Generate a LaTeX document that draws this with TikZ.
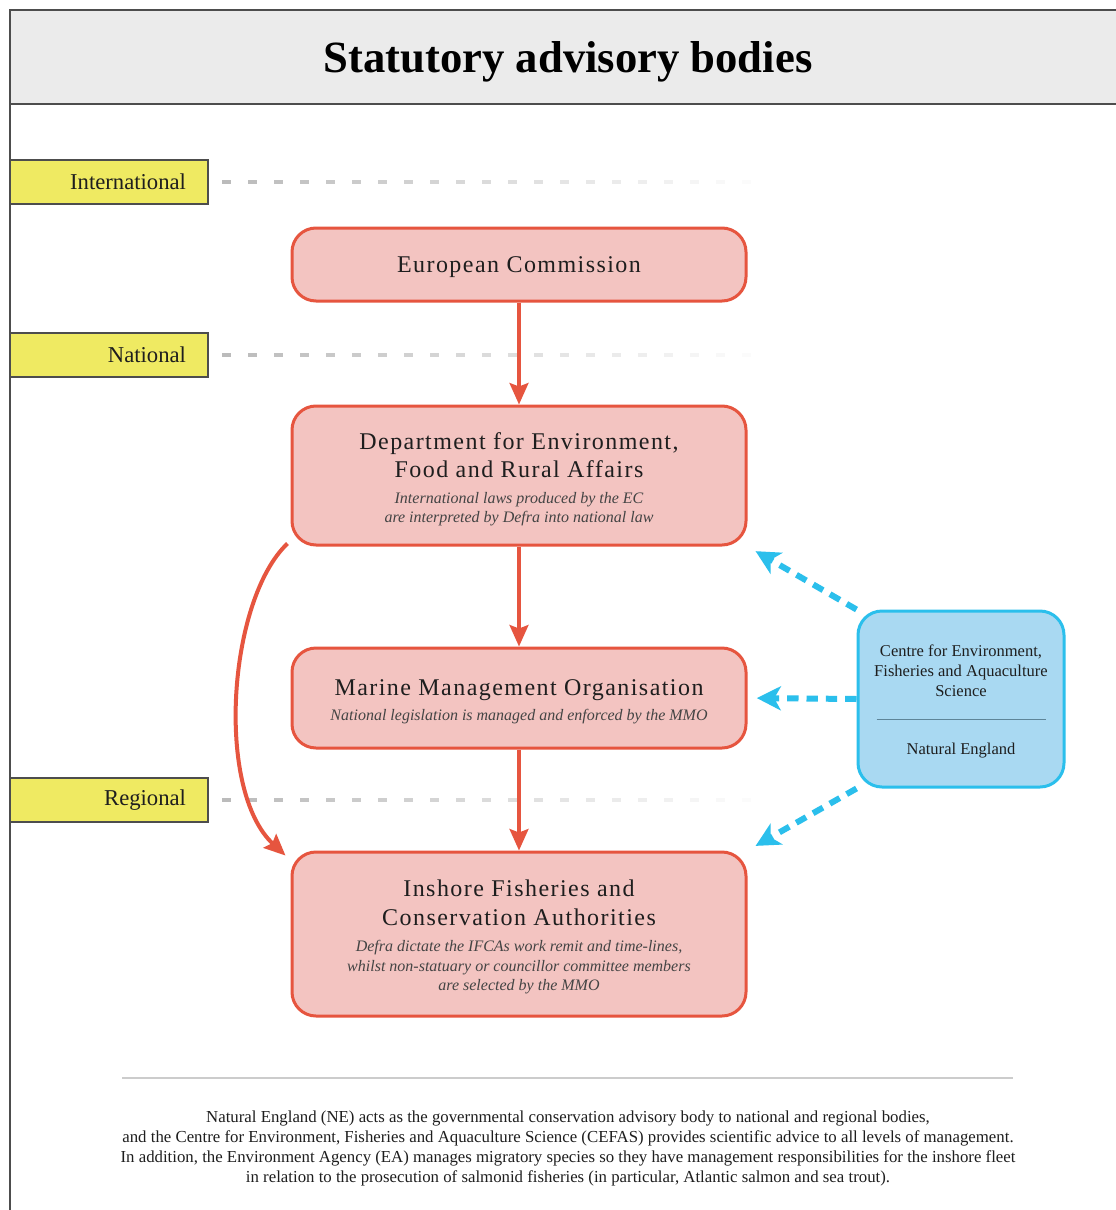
\documentclass[tikz,border=0pt]{standalone}
\usepackage{fontspec}
\setmainfont{Liberation Serif}
\newfontfamily\spacedserif[LetterSpace=6]{Liberation Serif}
\usetikzlibrary{arrows.meta,calc}
\definecolor{cframe}{HTML}{4D4D4D}
\definecolor{cband}{HTML}{EBEBEB}
\definecolor{cyellow}{HTML}{EFEA62}
\definecolor{cdash}{HTML}{BBBBBB}
\definecolor{credline}{HTML}{E6553F}
\definecolor{credfill}{HTML}{F3C4C1}
\definecolor{cblueline}{HTML}{2BBFEC}
\definecolor{cbluefill}{HTML}{A9D9F2}
\definecolor{crule}{HTML}{5E8599}
\definecolor{ctext}{HTML}{1E1E1E}
\definecolor{csub}{HTML}{444444}
\definecolor{csep}{HTML}{CCCCCC}
\newcommand\subit[1]{{\rmfamily\fontsize{12}{14}\selectfont\itshape\color{csub}#1}}
\begin{document}
\begin{tikzpicture}[x=0.75pt,y=-0.75pt,
  redbox/.style={draw=credline, fill=credfill, line width=2.25pt, rounded corners=18pt,
    minimum width=340.5pt},
  boxtext/.style={align=center, text=ctext, inner sep=0pt,
    font=\fontsize{18}{21}\selectfont\spacedserif},
  bluebox/.style={draw=cblueline, fill=cbluefill, line width=2.25pt, rounded corners=18pt,
    minimum width=154.5pt, minimum height=132pt},
  bluetext/.style={align=center, text=ctext, inner sep=0pt,
    font=\fontsize{12.4}{15}\selectfont},
  levelbox/.style={draw=cframe, fill=cyellow, line width=1.1pt, minimum height=33pt,
    text width=115.5pt, inner xsep=16.5pt, align=right, text=ctext,
    font=\fontsize{17}{20}\selectfont},
  leveldash/.style={draw=cdash, line width=2.6pt},
  redarrow/.style={draw=credline, line width=3pt,
    -{Stealth[length=16pt,width=14pt,inset=2.5pt]}},
  bluearrow/.style={draw=cblueline, line width=4.5pt, dash pattern=on 8.5pt off 6pt,
    -{Stealth[length=18pt,width=18pt,inset=5pt]}},
]
\useasboundingbox (0,0) rectangle (1116,1210);
\clip (0,0) rectangle (1116,1210);
\fill[white] (0,0) rectangle (1116,1210);

% frame and title band
\draw[cframe, line width=1.6pt, fill=cband] (10,10) rectangle (1130,104);
\draw[cframe, line width=1.6pt] (10,104) -- (10,1220);
\node[font=\fontsize{33.5}{40}\selectfont\bfseries, text=black] (title) at (568,62) {Statutory advisory bodies};

% level labels
\node[levelbox] (intl) at (109,182) {International};
\node[levelbox] (natl) at (109,355) {National};
\node[levelbox] (regl) at (109,800) {Regional};

% fading dashed level lines
\foreach \yy/\nm in {182/intl,355/natl,800/regl}{
  \coordinate (\nm-line) at (222,\yy);
  \foreach \i in {0,...,20}{
    \pgfmathsetmacro\op{max(0.06,1-\i/21)}
    \draw[leveldash, draw opacity=\op] ($(\nm-line)+(26*\i,0)$) -- ++(9,0);
  }
}

% main boxes
\node[redbox, minimum height=54.75pt] (ec) at (519,264.5) {};
\node[boxtext] (ec-t) at ($(ec.center)+(0,3)$) {European Commission};

\node[redbox, minimum height=104.25pt] (defra) at (519,475.5) {};
\node[boxtext] (defra-t) at ($(defra.center)+(0,4)$)
  {Department for Environment,\\ Food and Rural Affairs\\[-1.5pt]
   \subit{International laws produced by the EC}\\[-6.75pt]
   \subit{are interpreted by Defra into national law}};

\node[redbox, minimum height=75pt] (mmo) at (519,698) {};
\node[boxtext] (mmo-t) at ($(mmo.center)+(0,4)$)
  {Marine Management Organisation\\[-2.25pt]
   \subit{National legislation is managed and enforced by the MMO}};

\node[redbox, minimum height=123pt] (ifca) at (519,934) {};
\node[boxtext] (ifca-t) at ($(ifca.center)+(0,3)$)
  {Inshore Fisheries and\\[0.75pt] Conservation Authorities\\[-1.5pt]
   \subit{Defra dictate the IFCAs work remit and time-lines,}\\[-6.4pt]
   \subit{whilst non-statuary or councillor committee members}\\[-6.4pt]
   \subit{are selected by the MMO}};

\node[bluebox] (cefas) at (961,699) {};
\node[bluetext] (cefas-t) at ($(cefas.center)+(0,2)$)
  {Centre for Environment,\\ Fisheries and Aquaculture\\ Science\\[3pt]
   \textcolor{crule}{\rule{126.75pt}{0.8pt}}\\[10.5pt] Natural England};

% red arrows
\draw[redarrow] (ec) -- (defra);
\draw[redarrow] (defra) -- (mmo);
\draw[redarrow] (mmo) -- (ifca);
\draw[redarrow] ($(defra.south west)+(-3,-3)$) .. controls (228,600) and (215,790) .. ($(ifca.north west)+(-5,5)$);

% blue arrows
\draw[bluearrow, shorten >=7pt] (cefas.north west) -- (defra.south east);
\draw[bluearrow, shorten >=7pt] (cefas.west) -- (mmo.east);
\draw[bluearrow, shorten >=7pt] (cefas.south west) -- (ifca.north east);

% separator and note
\draw[csep, line width=0.9pt] (122,1078) coordinate (sepl) -- (1013,1078) coordinate (sepr);
\node[align=center, text=ctext, font=\fontsize{12.6}{15}\selectfont] (note) at (568,1148)
  {Natural England (NE) acts as the governmental conservation advisory body to national and regional bodies,\\
   and the Centre for Environment, Fisheries and Aquaculture Science (CEFAS) provides scientific advice to all levels of management.\\
   In addition, the Environment Agency (EA) manages migratory species so they have management responsibilities for the inshore fleet\\
   in relation to the prosecution of salmonid fisheries (in particular, Atlantic salmon and sea trout).};
\end{tikzpicture}
\end{document}
